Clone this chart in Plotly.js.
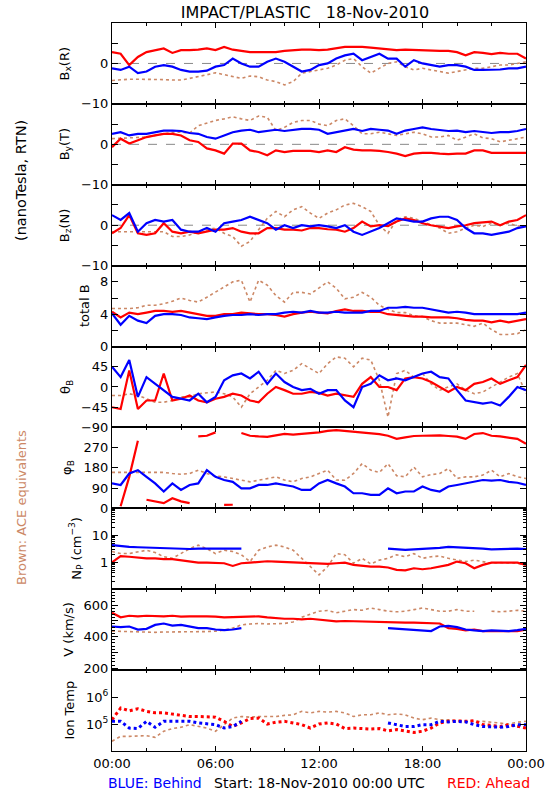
<!DOCTYPE html>
<html><head><meta charset="utf-8">
<script src="https://cdn.plot.ly/plotly-3.0.1.min.js"></script>
<style>html,body{margin:0;padding:0;background:#fff}#chart{width:550px;height:800px}</style>
</head><body><div id="chart"></div>
<script>
// time in hours after 18-Nov-2010 00:00 UTC
const hours = [0,0.5,1,1.5,2,2.5,3,3.5,4,4.5,5,5.5,6,6.5,7,7.5,8,8.5,9,9.5,10,10.5,11,11.5,12,12.5,13,13.5,14,14.5,15,15.5,16,16.5,17,17.5,18,18.5,19,19.5,20,20.5,21,21.5,22,22.5,23,23.5,24];
const timeTickVals = [0,6,12,18,24];
const timeTickText = ['00:00','06:00','12:00','18:00','00:00'];

// Bx (R), nT
const bxRed = [2.8,2.4,-0.4,1.6,2.8,3.3,3.7,2.6,3.3,3.3,3.4,3.7,3.3,4.1,3.4,3.1,2.8,2.8,2.8,2.8,3.1,3.3,3.4,3.4,3.3,3.4,3.7,4.1,4.1,4.1,3.9,3.7,3.4,3.3,3.4,3.3,3.3,3.1,3.1,3.1,2.8,2.0,2.8,2.6,2.3,2.6,2.4,2.4,1.2];
const bxBlue = [-1.2,-1.6,-0.8,-2.4,-2.0,-0.8,-0.4,-0.8,-1.6,-2.0,-2.0,-1.8,-0.8,-0.4,1.2,0,-0.8,-0.8,0.4,1.2,0.4,-0.8,-2.0,-1.6,-0.4,0,1.2,2.0,2.4,0.8,1.6,2.4,1.2,1.2,-0.8,0.8,0,-0.4,-0.8,-0.4,-0.4,-0.8,-1.6,-1.6,-1.6,-1.5,-1.2,-1.2,-0.8];
const bxBrown = [-4.2,-4.0,-3.9,-3.9,-3.9,-4.0,-4.0,-4.1,-4.1,-3.7,-3.3,-2.8,-2.3,-2.8,-3.3,-3.7,-3.1,-3.3,-4.1,-4.5,-5.3,-4.5,-2.4,-2.0,-1.6,-1.2,-0.4,0.8,1.2,-0.8,-2.4,-1.2,0,0.4,-0.8,-1.6,-1.2,-1.6,-2.0,-2.4,-2.0,-1.6,-1.2,-1.2,-0.8,-0.4,-0.4,0,0.4];

// By (T), nT
const byRed = [-0.7,1.4,0.2,1.0,1.8,2.2,2.6,2.6,2.2,1.0,0.6,-1.0,-1.5,-2.3,0.2,0.2,-1.5,-1.9,-2.7,-1.5,-1.9,-1.6,-1.6,-1.6,-1.9,-1.5,-1.9,-0.7,-1.3,-1.5,-1.5,-1.6,-1.9,-2.3,-2.9,-2.3,-2.1,-2.1,-2.3,-2.4,-2.3,-2.3,-1.5,-1.5,-2.1,-2.1,-2.1,-2.1,-2.1];
const byBlue = [2.6,3.0,2.2,2.6,2.6,3.0,3.4,3.4,3.3,2.8,2.6,1.8,1.4,2.2,3.0,3.4,3.6,3.0,3.3,3.6,3.3,3.6,3.8,3.8,3.6,2.6,3.0,3.4,3.8,3.3,3.8,3.6,3.4,2.6,3.4,3.8,4.2,3.8,3.6,3.3,3.4,3.0,3.3,3.0,2.8,3.0,3.0,3.3,3.8];
const byBrown = [1.4,1.5,1.5,1.6,1.8,2.2,2.6,3.0,3.0,2.8,4.6,5.3,5.9,6.3,6.8,6.3,5.9,7.0,6.7,3.4,4.2,5.4,5.9,5.9,5.0,4.6,5.9,6.3,4.6,2.6,2.6,3.0,2.6,2.2,2.6,3.0,2.6,1.8,1.8,2.2,1.0,1.8,2.6,1.6,1.4,0.6,1.0,1.4,1.8];

// Bz (N), nT
const bzRed = [-2.0,-0.7,2.5,-2.0,-2.4,-2.0,0.5,-1.6,-2.0,-1.6,-2.0,-1.6,-1.1,-1.1,-0.7,-1.6,-2.0,-2.0,-0.7,-0.7,-1.1,-1.1,-1.3,-0.7,-0.7,-1.0,-1.1,-1.6,-0.7,0.9,-0.3,0,-0.2,0.9,1.7,1.3,0.5,0,-0.3,-0.7,-0.3,0,0.5,0.7,0.9,0,0.9,1.3,2.5];
const bzBlue = [2.5,1.3,3.0,-1.6,0.5,1.3,0.9,1.3,-1.1,-1.6,-1.6,-0.7,-1.6,0.5,0.9,1.3,2.1,1.3,0.5,-1.1,0,-0.7,0,-0.3,0,-0.3,-0.7,0,-1.6,-2.4,-1.6,-0.7,0.5,1.7,1.3,0.9,0.9,1.7,2.1,2.1,1.3,-0.7,-2.0,-2.0,-2.4,-2.0,-1.6,-0.7,-0.3];
const bzBrown = [-1.6,-1.6,-1.6,-1.6,-1.6,-1.6,-1.6,-2.8,-2.8,-2.4,-1.6,-1.1,-0.7,-2.0,-2.8,-5.2,-4.0,-1.1,1.7,3.4,2.1,3.8,4.6,3.0,1.7,3.0,3.8,5.0,5.4,4.6,3.4,0,-2.0,1.3,2.1,1.7,0.9,0,-0.7,-2.0,-1.6,-0.7,0,-0.3,0.5,0,0.5,-0.2,-0.2];

// total B, nT
const btRed = [4.3,3.6,4.2,4.0,4.2,4.4,4.4,4.3,4.4,4.2,4.0,3.8,3.8,4.0,4.0,4.2,4.1,4.0,4.0,3.9,3.7,4.0,4.2,4.3,4.2,4.1,4.4,4.6,4.4,4.4,4.3,4.3,4.0,3.9,3.8,3.7,3.7,3.6,3.6,3.6,3.5,3.3,3.2,3.2,3.0,3.2,3.0,3.2,3.4];
const btBlue = [4.1,2.7,3.8,3.2,2.9,3.8,4.0,4.0,3.9,3.6,3.5,3.4,3.6,3.8,3.9,3.9,4.0,3.9,4.0,4.0,4.2,4.3,4.2,4.4,4.2,4.2,4.3,4.2,4.2,4.2,4.4,4.4,4.8,4.8,4.9,4.8,4.8,4.6,4.4,4.2,4.3,4.2,4.0,4.0,4.0,4.0,4.0,4.0,4.2];
const btBrown = [4.7,4.7,4.7,4.8,5.1,5.1,5.3,5.6,6.0,5.7,5.5,6.1,6.7,7.4,8.0,8.2,5.5,8.2,7.6,6.3,5.5,6.7,6.7,6.5,7.2,8.0,7.2,5.9,6.1,6.7,6.1,5.1,4.6,4.2,4.2,3.8,3.7,3.2,2.9,2.9,2.9,2.7,2.5,2.9,2.1,1.5,1.5,1.6,2.1];

// theta_B, deg
const thRed = [-45,-49,37,-49,-30,-30,30,-30,-26,-19,-30,-34,-26,-22,-15,-19,-30,-34,-15,0,-7,-15,-15,-11,-13,-19,-15,-19,-22,7,22,0,0,-7,19,22,19,11,0,-11,0,-7,7,11,19,7,15,22,49];
const thBlue = [45,22,60,-22,22,7,-7,-22,-26,-30,-15,-34,-22,15,26,30,19,34,7,30,11,0,-7,-4,-15,-7,-7,-30,-45,0,7,26,15,19,15,22,30,34,22,19,-7,-30,-34,-37,-34,-41,-22,0,-7];
const thBrown = [-19,-19,-15,-19,-26,-34,-34,-30,-22,-22,-15,-13,-11,-15,-22,-45,-15,0,15,37,30,37,52,41,30,52,67,64,45,64,60,15,-67,30,37,22,30,7,-7,0,7,-7,-15,-11,0,11,22,30,-15];

// phi_B, deg
const phRed = [350,9,140,301,38,31,23,45,31,23,320,323,338,15,16,335,323,320,318,325,331,328,330,335,338,345,348,345,342,338,334,330,323,309,316,322,323,325,325,322,319,309,331,335,323,320,316,309,287];
const phBlue = [111,104,155,170,140,111,75,111,82,104,111,170,140,126,118,89,89,104,104,111,104,97,82,82,111,126,111,97,67,67,60,60,89,67,75,75,97,82,75,97,104,111,118,126,123,126,118,114,104];
const phBrown = [160,160,160,160,160,160,160,155,152,155,170,155,143,140,133,126,118,125,133,140,126,118,133,140,155,170,126,125,155,199,170,160,199,145,140,184,140,150,155,177,133,140,140,148,170,140,155,140,133];

// proton density, cm^-3
const npRed = [1.0,1.7,1.6,1.5,1.4,1.4,1.3,1.3,1.2,1.06,0.97,0.97,0.97,0.92,0.73,0.92,0.97,1.03,1.09,1.06,1.03,1.0,1.0,0.97,0.92,0.87,0.92,0.97,0.8,0.73,0.69,0.69,0.64,0.52,0.5,0.6,0.55,0.6,0.69,0.8,1.06,0.92,0.6,0.8,0.97,1.0,0.97,0.97,0.8];
const npBlue = [4.3,3.9,3.7,3.6,3.5,3.4,3.2,3.3,3.2,3.1,3.2,3.3,3.2,3.2,3.3,3.2,null,null,null,null,null,null,null,null,null,null,null,null,null,null,null,null,3.2,3.0,2.9,3.0,3.1,3.3,3.4,3.7,3.6,3.5,3.4,3.2,3.0,3.1,3.3,3.2,3.1];
const npBrown = [2.5,2.1,2.1,2.5,2.8,2.3,1.6,1.4,2.1,3.2,4.3,3.2,2.1,2.8,2.5,1.9,1.06,2.8,3.7,4.3,3.7,2.8,1.4,0.69,0.34,0.69,2.1,1.9,0.92,1.4,0.87,1.2,1.4,1.9,1.6,2.1,1.4,1.6,1.7,1.4,1.2,1.06,1.2,1.06,0.92,0.97,0.92,0.92,0.8];

// bulk speed, km/s
const vRed = [551,522,532,528,532,528,528,532,526,528,530,528,526,522,524,526,526,528,522,516,513,513,509,513,507,499,497,499,497,495,493,493,491,489,489,489,487,487,483,454,449,439,445,435,435,431,431,435,445];
const vBlue = [464,460,464,445,449,474,483,470,474,464,454,454,445,441,445,454,null,null,null,null,null,null,null,null,null,null,null,null,null,null,null,null,454,450,449,445,441,435,464,468,460,445,439,435,439,435,435,441,449];
const vBrown = [435,433,431,428,425,427,429,429,429,429,430,432,435,441,454,474,480,483,480,480,483,493,522,542,561,565,551,561,571,567,581,571,561,557,561,571,581,571,561,561,571,561,561,null,561,557,561,567,561];

// ion temperature, K
const tRed = [1.45e5,3.9e5,3.1e5,3.7e5,2.95e5,2.6e5,2.6e5,2.35e5,2.2e5,1.9e5,1.9e5,1.9e5,1.8e5,1.26e5,8.1e4,1.1e5,1.6e5,1.66e5,1.0e5,1.17e5,1.26e5,1.1e5,9.5e4,7.1e4,1.0e5,1.1e5,1.0e5,6.8e4,7.1e4,6.8e4,6.5e4,6.8e4,5.6e4,6.2e4,5.4e4,4.9e4,5.4e4,7.1e4,1.1e5,1.26e5,1.32e5,1.26e5,1.32e5,9.5e4,8.9e4,8.1e4,9.5e4,8.1e4,7.1e4];
const tBlue = [1.26e5,1.26e5,7.1e4,6.8e4,1.26e5,7.6e4,1.26e5,1.26e5,1.32e5,1.26e5,1.1e5,1.0e5,9.5e4,7.1e4,8.1e4,1.26e5,null,null,null,null,null,null,null,null,null,null,null,null,null,null,null,null,1.1e5,9.5e4,8.1e4,8.1e4,9.5e4,9.5e4,1.26e5,1.2e5,1.26e5,1.2e5,9.5e4,8.1e4,7.6e4,7.6e4,8.1e4,9.5e4,9.5e4];
const tBrown = [2.3e4,3.5e4,3.5e4,3.7e4,3.7e4,3.2e4,5.4e4,6.8e4,7.6e4,9.5e4,8.1e4,7.1e4,5.4e4,9.5e4,1.66e5,1.9e5,1.8e5,1.9e5,1.9e5,1.9e5,2.1e5,2.2e5,2.95e5,2.6e5,2.95e5,2.75e5,2.95e5,2.6e5,1.9e5,2.2e5,2.2e5,2.6e5,2.2e5,2.35e5,2.2e5,1.66e5,1.45e5,1.66e5,1.45e5,1.45e5,1.32e5,1.32e5,1.26e5,1.26e5,1.17e5,1.1e5,1.0e5,1.17e5,1.26e5];

const RED = '#ff0000', BLUE = '#0000ff', BROWN = '#cc8866';
const FONT = 'DejaVu Sans, Liberation Sans, sans-serif';
const MINUS = '\u2212';

const panels = [
  {title:'B<sub>x</sub>(R)', tx:65, red:bxRed, blue:bxBlue, brown:bxBrown, type:'linear', range:[-10,10], tv:[-10,-5,0,5,10], tt:[MINUS+'10','','0','',''], zero:true},
  {title:'B<sub>y</sub>(T)', tx:65, red:byRed, blue:byBlue, brown:byBrown, type:'linear', range:[-10,10], tv:[-10,-5,0,5,10], tt:[MINUS+'10','','0','',''], zero:true},
  {title:'B<sub>z</sub>(N)', tx:65, red:bzRed, blue:bzBlue, brown:bzBrown, type:'linear', range:[-10,10], tv:[-10,-5,0,5,10], tt:[MINUS+'10','','0','',''], zero:true},
  {title:'total B', tx:84, red:btRed, blue:btBlue, brown:btBrown, type:'linear', range:[0,10], tv:[0,2,4,6,8,10], tt:['0','','4','','8','']},
  {title:'\u03b8<sub>B</sub>', tx:66, red:thRed, blue:thBlue, brown:thBrown, type:'linear', range:[-90,90], tv:[-90,-45,0,45,90], tt:[MINUS+'90',MINUS+'45','0','45','']},
  {title:'\u03c6<sub>B</sub>', tx:68, red:phRed, blue:phBlue, brown:phBrown, type:'linear', range:[0,360], tv:[0,90,180,270,360], tt:['0','90','180','270',''], wrap:true},
  {title:'N<sub>P</sub> (cm<sup>\u22123</sup>)', tx:76, red:npRed, blue:npBlue, brown:npBrown, type:'log', range:[-1,2], tv:[1,10], tt:['1','10'],
     minorVals:[0.2,0.3,0.4,0.5,0.6,0.7,0.8,0.9,2,3,4,5,6,7,8,9,20,30,40,50,60,70,80,90]},
  {title:'V (km/s)', tx:69, red:vRed, blue:vBlue, brown:vBrown, type:'linear', range:[188,700], tv:[200,300,400,500,600], tt:['200','','400','','600'], minorDtick:20},
  {title:'Ion Temp', tx:70, red:tRed, blue:tBlue, brown:tBrown, type:'log', range:[4,7], tv:[1e5,1e6], tt:['10<sup>5</sup>','10<sup>6</sup>'], dotted:true}
];

function unwrap(xs, ys) {
  const ox = [], oy = [];
  for (let i = 0; i < xs.length; i++) {
    if (i > 0 && ys[i] != null && ys[i-1] != null && Math.abs(ys[i] - ys[i-1]) > 180) {
      ox.push((xs[i] + xs[i-1]) / 2); oy.push(null);
    }
    ox.push(xs[i]); oy.push(ys[i]);
  }
  return [ox, oy];
}

const N = panels.length;
const PW = 414;
const data = [];
const layout = {
  width: 550, height: 800,
  margin: {l: 112, r: 24, t: 23, b: 49},
  paper_bgcolor: '#ffffff', plot_bgcolor: '#ffffff',
  showlegend: false,
  font: {family: FONT, size: 13, color: '#000'},
  title: {text: 'IMPACT/PLASTIC\u00a0\u00a0\u00a018-Nov-2010', x: 305/550, xref: 'container', xanchor: 'center',
          y: 1 - 12/800, yref: 'container', yanchor: 'middle', font: {family: FONT, size: 16, color: '#000'}},
  shapes: [], annotations: []
};

panels.forEach((p, i) => {
  const k = i === 0 ? '' : String(i + 1);
  const xa = 'x' + k, ya = 'y' + k;
  const top = 1 - i / N, bot = 1 - (i + 1) / N;
  const lw = p.dotted ? 3 : 2.2;
  const dash = p.dotted ? 'dot' : 'solid';
  let bx = hours, by = p.brown, rx = hours, ry = p.red, blx = hours, bly = p.blue;
  if (p.wrap) { [rx, ry] = unwrap(hours, p.red); [bx, by] = unwrap(hours, p.brown); [blx, bly] = unwrap(hours, p.blue); }
  data.push({x: bx, y: by, xaxis: xa, yaxis: ya, type: 'scatter', mode: 'lines', line: {color: BROWN, width: 1.6, dash: 'dot'}, hoverinfo: 'skip'});
  data.push({x: rx, y: ry, xaxis: xa, yaxis: ya, type: 'scatter', mode: 'lines', line: {color: RED, width: lw, dash: dash}, hoverinfo: 'skip'});
  data.push({x: blx, y: bly, xaxis: xa, yaxis: ya, type: 'scatter', mode: 'lines', line: {color: BLUE, width: lw, dash: dash}, hoverinfo: 'skip'});

  layout['xaxis' + k] = {
    domain: [0, 1], anchor: ya, range: [0, 24], matches: i === 0 ? undefined : 'x',
    tickmode: 'array', tickvals: timeTickVals, ticktext: timeTickText,
    showticklabels: i === N - 1, ticks: 'inside', ticklen: 5, tickcolor: '#000', tickwidth: 1,
    minor: {tickmode: 'linear', tick0: 0, dtick: 2, ticks: 'inside', ticklen: 3, tickcolor: '#000'},
    showline: true, linecolor: '#000', linewidth: 1, mirror: 'ticks',
    showgrid: false, zeroline: false, fixedrange: true,
    tickfont: {family: FONT, size: 13, color: '#000'}
  };
  const yax = {
    domain: [bot, top], anchor: xa, type: p.type, range: p.range,
    tickmode: 'array', tickvals: p.tv, ticktext: p.tt,
    ticks: 'inside', ticklen: 6, tickcolor: '#000', tickwidth: 1,
    showline: true, linecolor: '#000', linewidth: 1, mirror: 'ticks',
    showgrid: false, zeroline: false, fixedrange: true,
    tickfont: {family: FONT, size: 13, color: '#000'}
  };
  if (p.minorVals) yax.minor = {tickmode: 'array', tickvals: p.minorVals, ticks: 'inside', ticklen: 3, tickcolor: '#000'};
  if (p.minorDtick) yax.minor = {tickmode: 'linear', tick0: 0, dtick: p.minorDtick, ticks: 'inside', ticklen: 3, tickcolor: '#000'};
  layout['yaxis' + k] = yax;

  if (p.zero) {
    layout.shapes.push({type: 'line', xref: xa + ' domain', x0: 0, x1: 1, yref: ya, y0: 0, y1: 0,
      line: {color: '#888888', width: 1, dash: 'dash'}, layer: 'below'});
  }
  layout.annotations.push({text: p.title, xref: 'paper', yref: 'paper', x: (p.tx - 112) / PW, y: (top + bot) / 2,
    xanchor: 'center', yanchor: 'middle', textangle: -90, showarrow: false, font: {family: FONT, size: 13, color: '#000'}});
});

layout.annotations.push(
  {text: '(nanoTesla, RTN)', xref: 'paper', yref: 'paper', x: (21 - 112) / PW, y: 1 - (181 - 23) / 728,
   xanchor: 'center', yanchor: 'middle', textangle: -90, showarrow: false, font: {family: FONT, size: 14.5, color: '#000'}},
  {text: 'Brown: ACE equivalents', xref: 'paper', yref: 'paper', x: (21 - 112) / PW, y: 1 - (508 - 23) / 728,
   xanchor: 'center', yanchor: 'middle', textangle: -90, showarrow: false, font: {family: FONT, size: 13, color: BROWN}},
  {text: 'BLUE: Behind', xref: 'paper', yref: 'paper', x: (155 - 112) / PW, y: -(783 - 751) / 728,
   xanchor: 'center', yanchor: 'middle', showarrow: false, font: {family: FONT, size: 14, color: BLUE}},
  {text: 'Start: 18-Nov-2010 00:00 UTC', xref: 'paper', yref: 'paper', x: (319 - 112) / PW, y: -(783 - 751) / 728,
   xanchor: 'center', yanchor: 'middle', showarrow: false, font: {family: FONT, size: 14, color: '#000'}},
  {text: 'RED: Ahead', xref: 'paper', yref: 'paper', x: (488 - 112) / PW, y: -(783 - 751) / 728,
   xanchor: 'center', yanchor: 'middle', showarrow: false, font: {family: FONT, size: 14, color: RED}}
);

Plotly.newPlot('chart', data, layout, {displayModeBar: false, staticPlot: true});
</script>
</body></html>
